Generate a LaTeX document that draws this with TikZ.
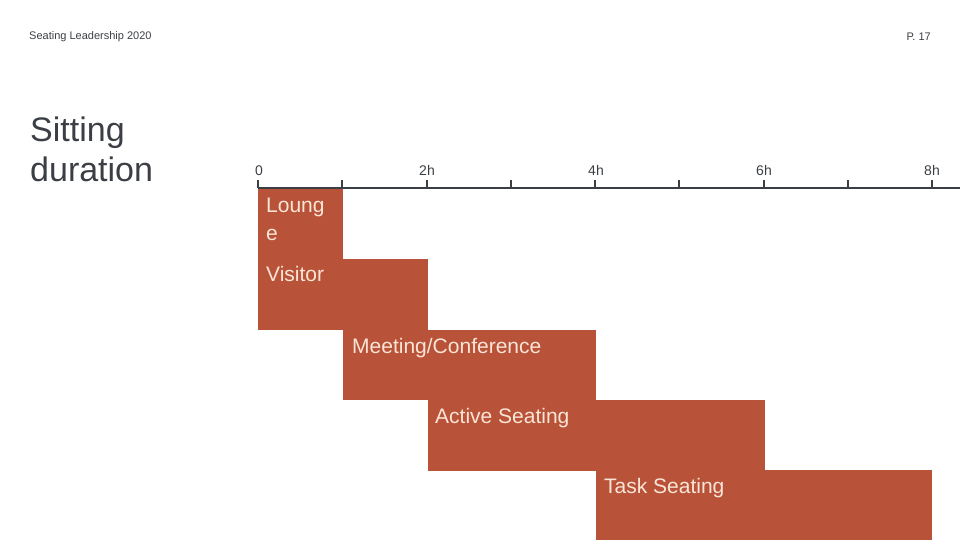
\documentclass[tikz,border=0pt]{standalone}
\usepackage{fontspec}
\setmainfont{Liberation Sans}
\definecolor{bar}{HTML}{B85239}
\definecolor{cream}{HTML}{FBE5D6}
\definecolor{ink}{HTML}{3B3F45}
\begin{document}
\begin{tikzpicture}[x=1pt,y=-1pt,
  barbox/.style={fill=bar,draw=none},
  barlbl/.style={anchor=north west,text=cream,font=\fontsize{21}{28}\selectfont,inner sep=0pt,align=left},
  axlbl/.style={anchor=south,text=ink,font=\fontsize{14}{16}\selectfont,inner sep=0pt}]
\useasboundingbox (0,0) rectangle (960,540);
\node[anchor=west,text=ink,font=\fontsize{11}{13}\selectfont,inner sep=0pt] (hdr) at (29,37) {Seating Leadership 2020};
\node[anchor=east,text=ink,font=\fontsize{11}{13}\selectfont,inner sep=0pt] (pg) at (931,37) {P. 17};
\node[anchor=north west,text=ink,font=\fontsize{34}{40}\selectfont,inner sep=0pt,align=left] (title) at (30,117) {Sitting\\duration};
\coordinate (a0) at (258,188);
\coordinate (a1) at (960,188);
\draw[ink,line width=2pt] (a0) -- (a1);
\foreach \i in {0,...,8} {
  \draw[ink,line width=2pt] (258+84.25*\i,180) -- (258+84.25*\i,188);
}
\node[axlbl] (l0) at (259,176) {0};
\node[axlbl] (l2) at (427,176) {2h};
\node[axlbl] (l4) at (596,176) {4h};
\node[axlbl] (l6) at (764,176) {6h};
\node[axlbl] (l8) at (932,176) {8h};
\fill[bar] (258,189) rectangle (343,260);
\fill[bar] (258,259) rectangle (428,330);
\fill[bar] (343,330) rectangle (596,400);
\fill[bar] (428,400) rectangle (765,471);
\fill[bar] (596,470) rectangle (932,540);
\node[barlbl] (t1) at (266,198) {Loung\\e};
\node[barlbl] (t2) at (266,266) {Visitor};
\node[barlbl] (t3) at (352,338) {Meeting/Conference};
\node[barlbl] (t4) at (435,408) {Active Seating};
\node[barlbl] (t5) at (604,478) {Task Seating};
\end{tikzpicture}
\end{document}
